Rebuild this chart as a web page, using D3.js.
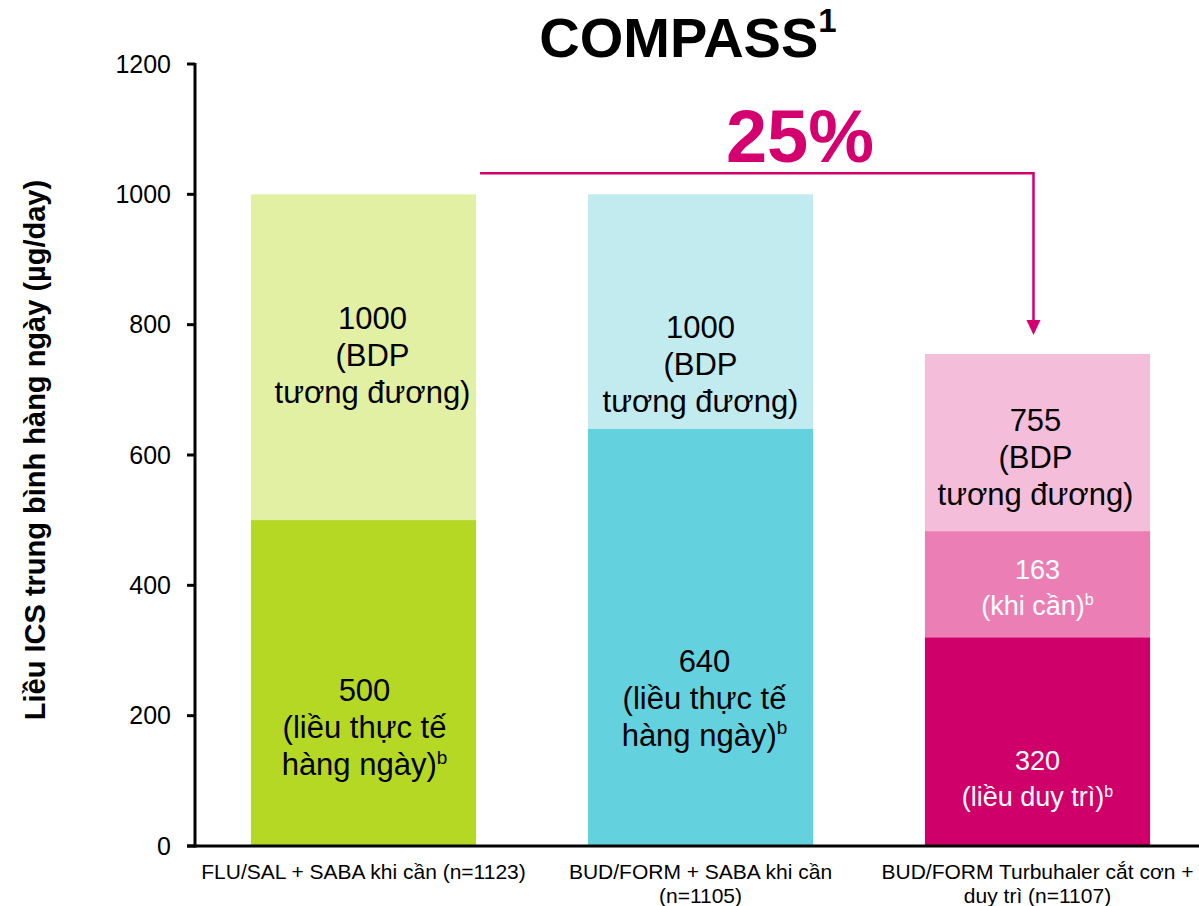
<!DOCTYPE html>
<html>
<head>
<meta charset="utf-8">
<script src="https://cdn.jsdelivr.net/npm/d3@7"></script>
<style>
  html, body { margin: 0; padding: 0; background: #fff; }
  svg { display: block; font-family: Arial, "Liberation Sans", sans-serif; }
</style>
</head>
<body>
<svg id="chart" width="1199" height="906"></svg>
<script>
// ---- data ----
const categories = [
  ["FLU/SAL + SABA khi cần (n=1123)"],
  ["BUD/FORM + SABA khi cần", "(n=1105)"],
  ["BUD/FORM Turbuhaler cắt cơn +", "duy trì (n=1107)"]
];
const totals = [1000, 1000, 755];          // BDP-equivalent total dose
const actualDose = [500, 640, null];      // actual daily dose
const maintenanceDose = [null, null, 320];
const asNeededDose = [null, null, 163];
const yTicks = [0, 200, 400, 600, 800, 1000, 1200];
const reductionLabel = "25%";

const totalLabels = [
  ["1000", "(BDP", "tương đương)"],
  ["1000", "(BDP", "tương đương)"],
  ["755", "(BDP", "tương đương)"]
];
const actualLabels = [
  ["500", "(liều thực tế", "hàng ngày)"],
  ["640", "(liều thực tế", "hàng ngày)"]
];
const maintLabel = ["320", "(liều duy trì)"];
const asNeededLabel = ["163", "(khi cần)"];

// ---- layout ----
const W = 1199, H = 906;
const x0 = 195, yBase = 846, yTop = 64;
const svg = d3.select("#chart");

const x = d3.scaleBand()
  .domain(d3.range(categories.length))
  .range([x0, x0 + 337 * 3])
  .paddingInner(0.332)
  .paddingOuter(0.166);

const y = d3.scaleLinear().domain([0, 1200]).range([yBase, yTop]);

const colors = {
  lightGreen: "#e2f0a4", green: "#b5d825",
  lightCyan: "#c2ebf0", cyan: "#64d2de",
  lightPink: "#f4bedb", midPink: "#eb7fb5", magenta: "#cf006a"
};
const topColors = [colors.lightGreen, colors.lightCyan, colors.lightPink];
const lowColors = [colors.green, colors.cyan];

// ---- bars ----
const g = svg.append("g");
g.selectAll("rect.total").data(totals).join("rect")
  .attr("class", "total")
  .attr("x", (d, i) => x(i)).attr("width", x.bandwidth())
  .attr("y", d => y(d)).attr("height", d => yBase - y(d))
  .attr("fill", (d, i) => topColors[i]);

actualDose.forEach((d, i) => {
  if (d == null) return;
  g.append("rect").attr("x", x(i)).attr("width", x.bandwidth())
    .attr("y", y(d)).attr("height", yBase - y(d)).attr("fill", lowColors[i]);
});
maintenanceDose.forEach((m, i) => {
  if (m == null) return;
  const a = asNeededDose[i];
  g.append("rect").attr("x", x(i)).attr("width", x.bandwidth())
    .attr("y", y(m + a)).attr("height", y(m) - y(m + a)).attr("fill", colors.midPink);
  g.append("rect").attr("x", x(i)).attr("width", x.bandwidth())
    .attr("y", y(m)).attr("height", yBase - y(m)).attr("fill", colors.magenta);
});

// ---- segment labels ----
const LH = 37;
function block(cx, cyFirst, lines, color, supLast, fs, lh) {
  const t = svg.append("text")
    .attr("text-anchor", "middle")
    .attr("font-size", fs)
    .attr("fill", color);
  lines.forEach((s, k) => {
    t.append("tspan").attr("x", cx).attr("y", cyFirst + k * lh + fs * 0.36).text(s);
    if (supLast && k === lines.length - 1) {
      // superscript b
      t.append("tspan").attr("font-size", Math.round(fs * 0.6)).attr("dy", -fs * 0.36).text("b");
    }
  });
}
const cx = i => x(i) + x.bandwidth() / 2;
// offsets (px) of each block's middle line from its segment's middle
const totalOffsets = [-2, 52, 14];
const totalShiftX = [9, 0, -2];
const actualOffsets = [44, 60];
const actualShiftX = [1, 4];

totals.forEach((d, i) => {
  const lo = actualDose[i] != null ? actualDose[i] : maintenanceDose[i] + asNeededDose[i];
  const mid = (y(d) + y(lo)) / 2 + totalOffsets[i];
  block(cx(i) + totalShiftX[i], mid - LH, totalLabels[i], "#000", false, 31, LH);
});
actualDose.forEach((d, i) => {
  if (d == null) return;
  const mid = (y(d) + yBase) / 2 + actualOffsets[i];
  block(cx(i) + actualShiftX[i], mid - LH, actualLabels[i], "#000", true, 31, LH);
});
maintenanceDose.forEach((m, i) => {
  if (m == null) return;
  const a = asNeededDose[i];
  const midA = (y(m + a) + y(m)) / 2;
  block(cx(i), midA - 18 + 3, asNeededLabel, "#fff", true, 27, 36);
  const midM = (y(m) + yBase) / 2;
  block(cx(i), midM + 19, maintLabel, "#fff", true, 27, 36);
});

// ---- axes ----
svg.append("line").attr("x1", x0).attr("x2", x0).attr("y1", yTop - 1).attr("y2", yBase + 1.5)
  .attr("stroke", "#000").attr("stroke-width", 3);
svg.append("line").attr("x1", 187).attr("x2", W).attr("y1", yBase).attr("y2", yBase)
  .attr("stroke", "#000").attr("stroke-width", 3);

const ticks = svg.append("g");
ticks.selectAll("line").data(yTicks).join("line")
  .attr("x1", 187).attr("x2", x0).attr("y1", d => y(d)).attr("y2", d => y(d))
  .attr("stroke", "#000").attr("stroke-width", 3);
ticks.selectAll("text").data(yTicks).join("text")
  .attr("x", 171).attr("y", d => y(d)).attr("dy", "0.35em")
  .attr("text-anchor", "end").attr("font-size", 25).attr("fill", "#000")
  .text(d => d);

// y axis title
svg.append("text")
  .attr("transform", `translate(35,450) rotate(-90)`)
  .attr("text-anchor", "middle").attr("dy", "0.35em")
  .attr("font-size", 29).attr("font-weight", "bold").attr("fill", "#000")
  .text("Liều ICS trung bình hàng ngày (µg/day)");

// category labels
categories.forEach((lines, i) => {
  const t = svg.append("text")
    .attr("text-anchor", "middle").attr("font-size", 21).attr("fill", "#000");
  lines.forEach((s, k) => t.append("tspan").attr("x", cx(i)).attr("y", 872 + k * 24).attr("dy", "0.35em").text(s));
});

// ---- title ----
const title = svg.append("text").attr("x", 688).attr("y", 37).attr("dy", "0.35em")
  .attr("text-anchor", "middle").attr("font-size", 56).attr("font-weight", "bold").attr("fill", "#000");
title.append("tspan").text("COMPASS");
title.append("tspan").attr("font-size", 33).attr("dy", "-0.75em").text("1");

// ---- reduction arrow ----
const accent = "#d4006f";
const lineY = y(totals[0]) - 21;
const arrowX = cx(2) - 4;
const tipY = y(totals[2]) - 19;
svg.append("path")
  .attr("d", `M${x(0) + x.bandwidth() + 4},${lineY} H${arrowX} V${tipY - 14}`)
  .attr("fill", "none").attr("stroke", accent).attr("stroke-width", 2.5);
svg.append("path")
  .attr("d", `M${arrowX - 7},${tipY - 15} L${arrowX + 7},${tipY - 15} L${arrowX},${tipY} Z`)
  .attr("fill", accent);
svg.append("text").attr("x", 800).attr("y", 136).attr("dy", "0.35em")
  .attr("text-anchor", "middle").attr("font-size", 74).attr("font-weight", "bold").attr("fill", accent)
  .text(reductionLabel);
</script>
</body>
</html>
